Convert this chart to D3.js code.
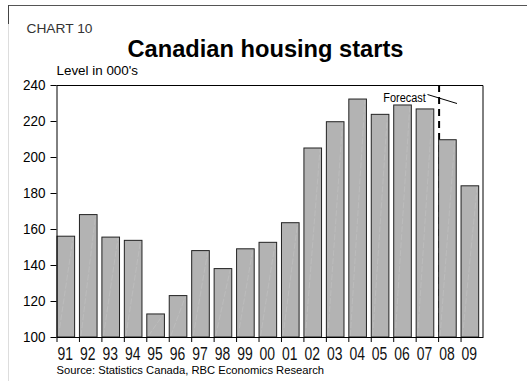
<!DOCTYPE html>
<html>
<head>
<meta charset="utf-8">
<script src="https://cdn.jsdelivr.net/npm/d3@7/dist/d3.min.js"></script>
<style>
  html, body { margin: 0; padding: 0; background: #fff; }
  svg { display: block; font-family: "Liberation Sans", Arial, Helvetica, sans-serif; }
</style>
</head>
<body>
<svg id="chart" width="527" height="381"></svg>
<script>
// Canadian housing starts, thousands of units (2008-09 are forecasts)
const years  = ["91","92","93","94","95","96","97","98","99","00","01","02","03","04","05","06","07","08","09"];
const starts = [156, 168, 155.5, 153.7, 112.8, 123, 148, 138, 149, 152.6, 163.5, 205, 219.6, 232.2, 223.7, 228.9, 226.7, 209.6, 184];
const yTicks = [100, 120, 140, 160, 180, 200, 220, 240];
const forecastStart = "08";

const svg = d3.select("#chart");
const plot = { left: 56.5, right: 483, top: 85, bottom: 337 };

const x = d3.scaleBand().domain(years).range([plot.left, plot.right]).padding(0);
const y = d3.scaleLinear().domain([100, 240]).range([plot.bottom, plot.top]);
const bw = x.bandwidth();
const barW = bw * 0.785;

// squeeze/stretch a text node to a given width
const fit = (sel, w) => sel.attr("textLength", w).attr("lengthAdjust", "spacingAndGlyphs");

// outer frame
svg.append("line").attr("x1", 8.5).attr("x2", 527).attr("y1", 5.5).attr("y2", 5.5)
  .attr("stroke", "#555").attr("stroke-width", 1);
svg.append("line").attr("x1", 8.5).attr("x2", 8.5).attr("y1", 5).attr("y2", 24)
  .attr("stroke", "#444").attr("stroke-width", 1);
svg.append("line").attr("x1", 8.5).attr("x2", 8.5).attr("y1", 24).attr("y2", 381)
  .attr("stroke", "#ddd").attr("stroke-width", 1);

// headings
svg.append("text").attr("x", 26.5).attr("y", 33.3)
  .attr("font-size", 13).attr("fill", "#333").text("CHART 10")
  .call(fit, 66);
svg.append("text").attr("x", 127.5).attr("y", 56.5)
  .attr("font-size", 23).attr("font-weight", "bold").attr("fill", "#000")
  .text("Canadian housing starts").call(fit, 276);
svg.append("text").attr("x", 56.5).attr("y", 75.3)
  .attr("font-size", 13.5).attr("fill", "#000").text("Level in 000's")
  .call(fit, 81.5);

// forecast divider (behind the bars)
svg.append("line")
  .attr("x1", x(forecastStart) + 1).attr("x2", x(forecastStart) + 1)
  .attr("y1", plot.top).attr("y2", plot.bottom)
  .attr("stroke", "#000").attr("stroke-width", 2)
  .attr("stroke-dasharray", "7,5");

// bars
const bars = svg.append("g").selectAll("g").data(years).join("g");
bars.append("rect")
  .attr("x", d => x(d) + 0.5)
  .attr("y", (d, i) => y(starts[i]))
  .attr("width", barW)
  .attr("height", (d, i) => y(100) - y(starts[i]))
  .attr("fill", "#b3b3b3")
  .attr("stroke", "#222")
  .attr("stroke-width", 1);
bars.append("line")
  .attr("x1", d => x(d) + 2)
  .attr("y1", plot.bottom - 1)
  .attr("x2", d => x(d) + barW - 1)
  .attr("y2", (d, i) => y(starts[i]) + 1)
  .attr("stroke", "#c4c4c4").attr("stroke-width", 0.5)
  .attr("stroke-dasharray", "6,2");

// plot box: top and right edges
svg.append("path")
  .attr("d", `M${plot.left},${plot.top + 0.5}H${plot.right}V${plot.bottom}`)
  .attr("fill", "none").attr("stroke", "#000").attr("stroke-width", 1);

// y axis
const yAxis = svg.append("g").attr("transform", `translate(${plot.left},0)`)
  .call(d3.axisLeft(y).tickValues(yTicks).tickSize(6).tickPadding(5).tickSizeOuter(0));
yAxis.selectAll("text").attr("font-size", 15.5).attr("font-family", null).attr("fill", "#000")
  .call(fit, 22.5);
yAxis.selectAll("line, path").attr("stroke", "#000");

// x axis: ticks on category boundaries, labels under each bar
const xAxis = svg.append("g").attr("transform", `translate(0,${plot.bottom})`)
  .call(d3.axisBottom(x).tickSize(5).tickPadding(5.5).tickSizeOuter(0));
xAxis.selectAll(".tick line").attr("x1", -bw / 2 + 0.5).attr("x2", -bw / 2 + 0.5);
xAxis.selectAll(".tick text")
  .attr("x", barW / 2 - bw / 2)
  .attr("font-size", 17.5).attr("font-family", null).attr("fill", "#111")
  .call(fit, 15.5);
xAxis.selectAll("line, path").attr("stroke", "#000");

// forecast label with leader
svg.append("text").attr("x", 383.3).attr("y", 101.5)
  .attr("font-size", 12.5).attr("fill", "#000").text("Forecast")
  .call(fit, 42.5);
svg.append("line").attr("x1", 427.5).attr("y1", 94.5).attr("x2", 457).attr("y2", 103.5)
  .attr("stroke", "#000").attr("stroke-width", 1);

// source note
svg.append("text").attr("x", 56.5).attr("y", 374)
  .attr("font-size", 11.5).attr("fill", "#000")
  .text("Source: Statistics Canada, RBC Economics Research")
  .call(fit, 267.5);
</script>
</body>
</html>
